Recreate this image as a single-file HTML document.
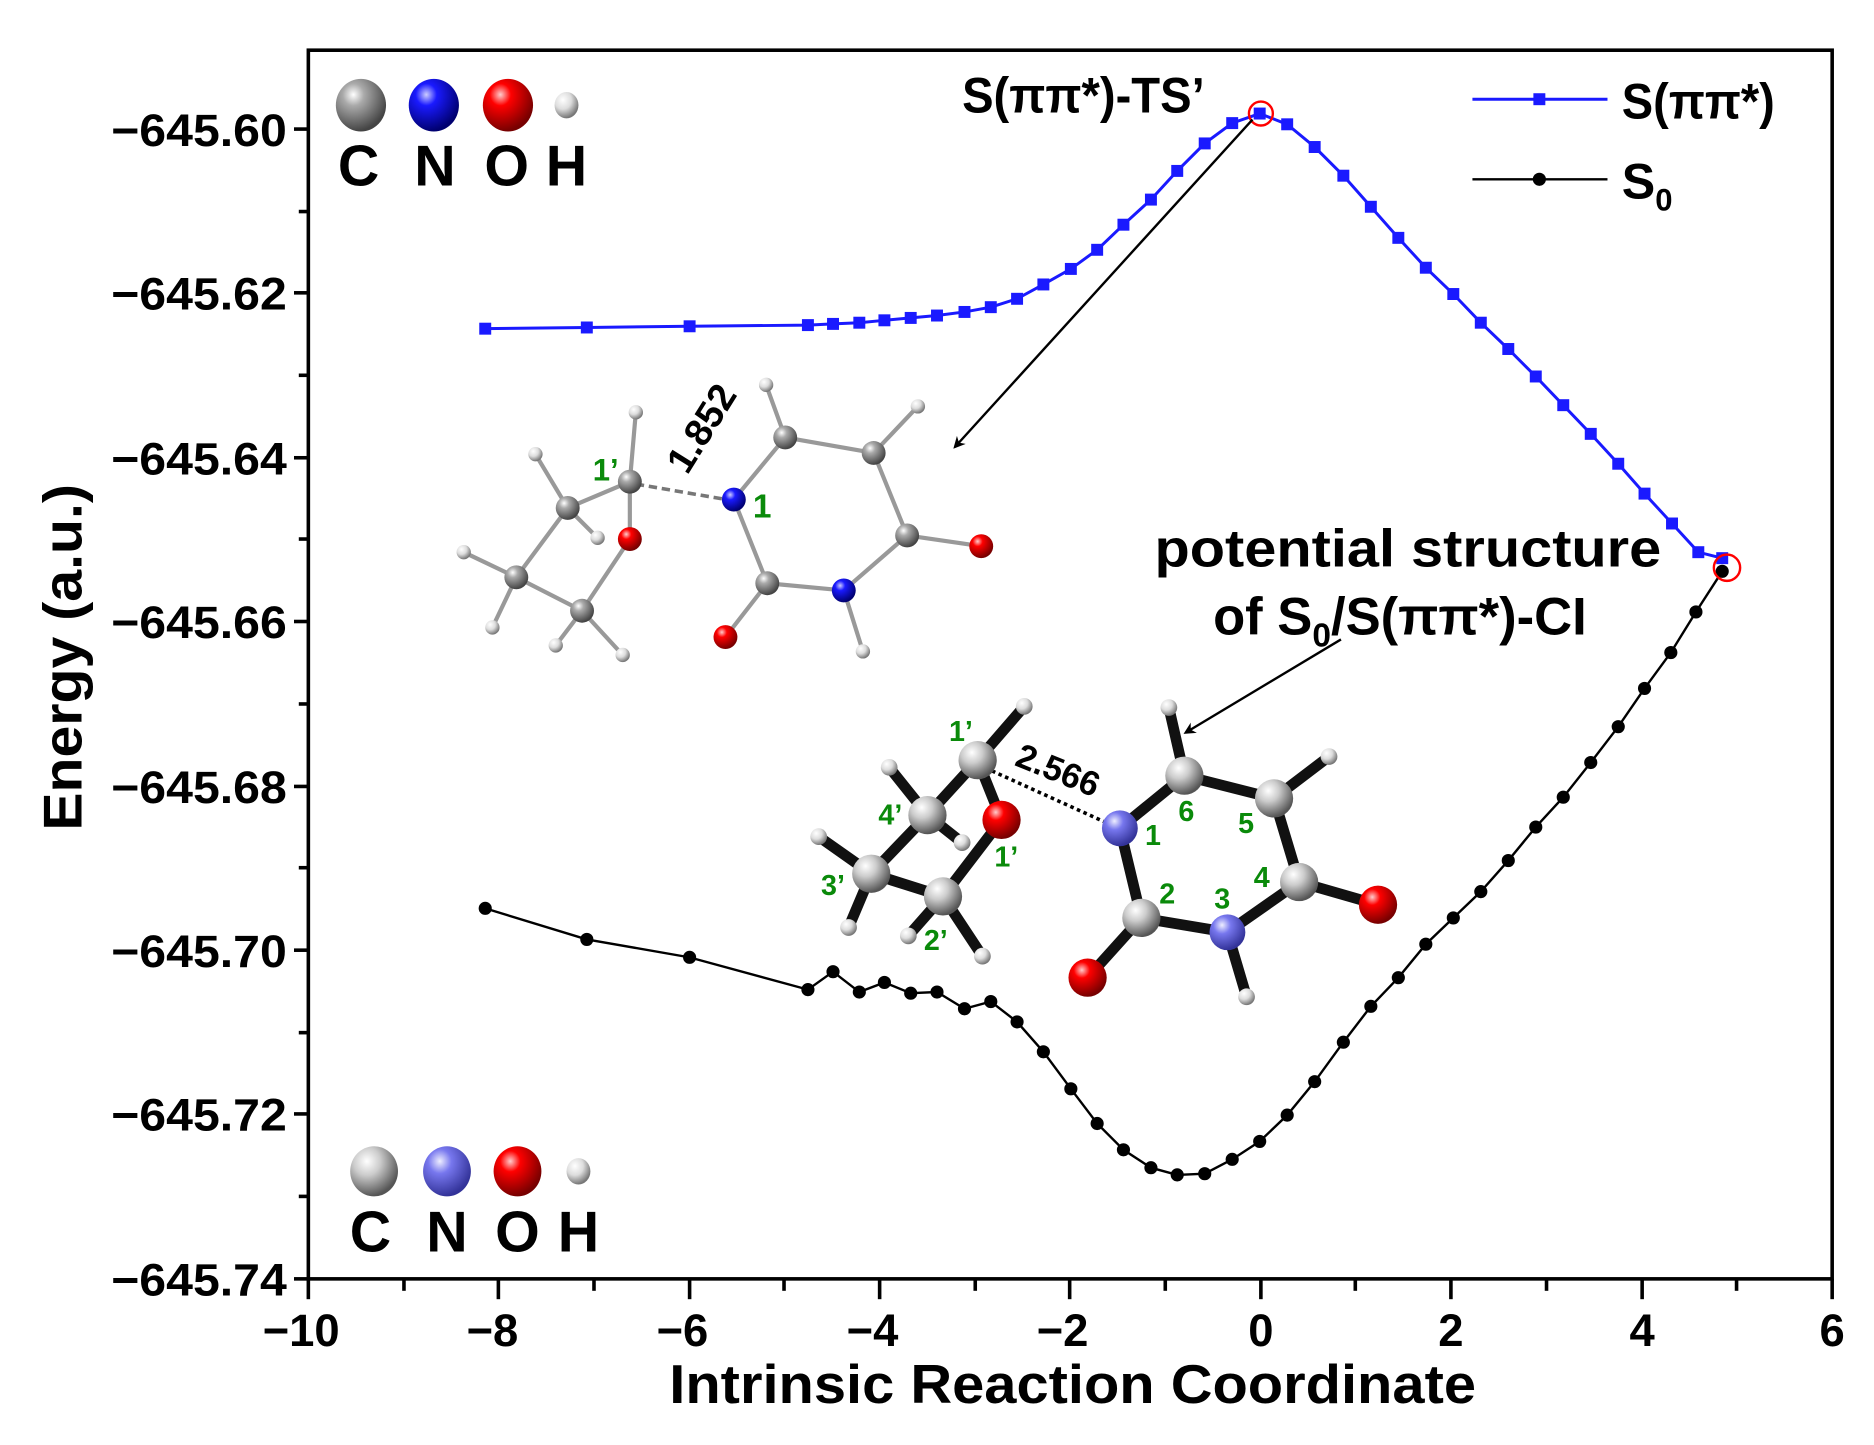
<!DOCTYPE html>
<html><head><meta charset="utf-8"><style>
html,body{margin:0;padding:0;background:#fff}
svg{display:block}
text{font-family:"Liberation Sans",Arial,sans-serif;font-weight:bold}
</style></head><body>
<svg width="1874" height="1445" viewBox="0 0 1568 1209" preserveAspectRatio="none" xmlns="http://www.w3.org/2000/svg">
<defs>
<radialGradient id="gC" cx="35%" cy="30%" r="70%"><stop offset="0" stop-color="#fff"/><stop offset="0.3" stop-color="#aaa"/><stop offset="1" stop-color="#444"/></radialGradient>
<radialGradient id="gN" cx="35%" cy="30%" r="70%"><stop offset="0" stop-color="#ccf"/><stop offset="0.3" stop-color="#1a1aff"/><stop offset="1" stop-color="#000070"/></radialGradient>
<radialGradient id="gN2" cx="35%" cy="30%" r="70%"><stop offset="0" stop-color="#eef"/><stop offset="0.35" stop-color="#7777ee"/><stop offset="1" stop-color="#333399"/></radialGradient>
<radialGradient id="gO" cx="35%" cy="30%" r="70%"><stop offset="0" stop-color="#fcc"/><stop offset="0.3" stop-color="#f00"/><stop offset="1" stop-color="#700"/></radialGradient>
<radialGradient id="gH" cx="35%" cy="30%" r="70%"><stop offset="0" stop-color="#fff"/><stop offset="0.5" stop-color="#ddd"/><stop offset="1" stop-color="#777"/></radialGradient>
<radialGradient id="gC2" cx="35%" cy="30%" r="70%"><stop offset="0" stop-color="#fff"/><stop offset="0.4" stop-color="#ccc"/><stop offset="1" stop-color="#555"/></radialGradient>
<marker id="ah" markerWidth="10" markerHeight="10" refX="8" refY="5" orient="auto" markerUnits="userSpaceOnUse"><path d="M0,0 L10,5 L0,10 L3,5 z" fill="#000"/></marker>
</defs>

<rect x="258" y="42" width="1275" height="1028" fill="none" stroke="#000" stroke-width="3"/>
<g stroke="#000" stroke-width="3">
<line x1="246" y1="108" x2="258" y2="108"/><line x1="246" y1="245" x2="258" y2="245"/><line x1="246" y1="383" x2="258" y2="383"/><line x1="246" y1="520" x2="258" y2="520"/><line x1="246" y1="658" x2="258" y2="658"/><line x1="246" y1="795" x2="258" y2="795"/><line x1="246" y1="932" x2="258" y2="932"/><line x1="246" y1="1070" x2="258" y2="1070"/>
<line x1="250" y1="177" x2="258" y2="177"/><line x1="250" y1="314" x2="258" y2="314"/><line x1="250" y1="451" x2="258" y2="451"/><line x1="250" y1="589" x2="258" y2="589"/><line x1="250" y1="726" x2="258" y2="726"/><line x1="250" y1="864" x2="258" y2="864"/><line x1="250" y1="1001" x2="258" y2="1001"/>
</g>
<g stroke="#000" stroke-width="3">
<line x1="258" y1="1070" x2="258" y2="1087"/><line x1="417" y1="1070" x2="417" y2="1087"/><line x1="577" y1="1070" x2="577" y2="1087"/><line x1="736" y1="1070" x2="736" y2="1087"/><line x1="895" y1="1070" x2="895" y2="1087"/><line x1="1055" y1="1070" x2="1055" y2="1087"/><line x1="1214" y1="1070" x2="1214" y2="1087"/><line x1="1374" y1="1070" x2="1374" y2="1087"/><line x1="1533" y1="1070" x2="1533" y2="1087"/>
<line x1="338" y1="1070" x2="338" y2="1080"/><line x1="497" y1="1070" x2="497" y2="1080"/><line x1="656" y1="1070" x2="656" y2="1080"/><line x1="816" y1="1070" x2="816" y2="1080"/><line x1="975" y1="1070" x2="975" y2="1080"/><line x1="1134" y1="1070" x2="1134" y2="1080"/><line x1="1294" y1="1070" x2="1294" y2="1080"/><line x1="1453" y1="1070" x2="1453" y2="1080"/>
</g>
<g font-size="38" lengthAdjust="spacingAndGlyphs">
<text x="93" y="122" textLength="147" lengthAdjust="spacingAndGlyphs">−645.60</text><text x="93" y="259" textLength="147" lengthAdjust="spacingAndGlyphs">−645.62</text><text x="93" y="397" textLength="147" lengthAdjust="spacingAndGlyphs">−645.64</text><text x="93" y="534" textLength="147" lengthAdjust="spacingAndGlyphs">−645.66</text><text x="93" y="672" textLength="147" lengthAdjust="spacingAndGlyphs">−645.68</text><text x="93" y="809" textLength="147" lengthAdjust="spacingAndGlyphs">−645.70</text><text x="93" y="946" textLength="147" lengthAdjust="spacingAndGlyphs">−645.72</text><text x="93" y="1084" textLength="147" lengthAdjust="spacingAndGlyphs">−645.74</text>
</g>
<g font-size="38" text-anchor="middle">
<text x="252" y="1126">−10</text><text x="412" y="1126">−8</text><text x="571" y="1126">−6</text><text x="730" y="1126">−4</text><text x="889" y="1126">−2</text><text x="1055" y="1126">0</text><text x="1214" y="1126">2</text><text x="1374" y="1126">4</text><text x="1533" y="1126">6</text>
</g>
<text x="560" y="1174" font-size="46" textLength="675" lengthAdjust="spacingAndGlyphs">Intrinsic Reaction Coordinate</text>
<text transform="translate(68,695) rotate(-90)" font-size="46" textLength="290" lengthAdjust="spacingAndGlyphs">Energy (a.u.)</text>

<polyline fill="none" stroke="#1a1aff" stroke-width="2.5" points="406,275 491,274 577,273 676,272 697,271 719,270 740,268 762,266 784,264 807,261 829,257 851,250 873,238 896,225 918,209 940,188 963,167 985,143 1008,120 1031,103 1054,95 1077,104 1100,123 1124,147 1147,173 1170,199 1193,224 1216,246 1239,270 1262,292 1285,315 1308,339 1331,363 1354,388 1376,413 1399,438 1421,462 1441,467"/>
<g fill="#1a1aff">
<rect x="401" y="270" width="10" height="10"/><rect x="486" y="269" width="10" height="10"/><rect x="572" y="268" width="10" height="10"/><rect x="671" y="267" width="10" height="10"/><rect x="692" y="266" width="10" height="10"/><rect x="714" y="265" width="10" height="10"/><rect x="735" y="263" width="10" height="10"/><rect x="757" y="261" width="10" height="10"/><rect x="779" y="259" width="10" height="10"/><rect x="802" y="256" width="10" height="10"/><rect x="824" y="252" width="10" height="10"/><rect x="846" y="245" width="10" height="10"/><rect x="868" y="233" width="10" height="10"/><rect x="891" y="220" width="10" height="10"/><rect x="913" y="204" width="10" height="10"/><rect x="935" y="183" width="10" height="10"/><rect x="958" y="162" width="10" height="10"/><rect x="980" y="138" width="10" height="10"/><rect x="1003" y="115" width="10" height="10"/><rect x="1026" y="98" width="10" height="10"/><rect x="1049" y="90" width="10" height="10"/><rect x="1072" y="99" width="10" height="10"/><rect x="1095" y="118" width="10" height="10"/><rect x="1119" y="142" width="10" height="10"/><rect x="1142" y="168" width="10" height="10"/><rect x="1165" y="194" width="10" height="10"/><rect x="1188" y="219" width="10" height="10"/><rect x="1211" y="241" width="10" height="10"/><rect x="1234" y="265" width="10" height="10"/><rect x="1257" y="287" width="10" height="10"/><rect x="1280" y="310" width="10" height="10"/><rect x="1303" y="334" width="10" height="10"/><rect x="1326" y="358" width="10" height="10"/><rect x="1349" y="383" width="10" height="10"/><rect x="1371" y="408" width="10" height="10"/><rect x="1394" y="433" width="10" height="10"/><rect x="1416" y="457" width="10" height="10"/><rect x="1436" y="462" width="10" height="10"/>
</g>
<polyline fill="none" stroke="#000" stroke-width="2" points="406,760 491,786 577,801 676,828 697,813 719,830 740,822 762,831 784,830 807,844 829,838 851,855 873,880 896,911 918,940 940,962 963,977 985,983 1008,982 1031,970 1054,955 1077,933 1100,905 1124,872 1147,842 1170,818 1193,790 1216,768 1239,746 1262,720 1285,692 1308,667 1331,638 1354,608 1376,576 1398,546 1419,512 1441,478"/>
<g fill="#000">
<circle cx="406" cy="760" r="5.5"/><circle cx="491" cy="786" r="5.5"/><circle cx="577" cy="801" r="5.5"/><circle cx="676" cy="828" r="5.5"/><circle cx="697" cy="813" r="5.5"/><circle cx="719" cy="830" r="5.5"/><circle cx="740" cy="822" r="5.5"/><circle cx="762" cy="831" r="5.5"/><circle cx="784" cy="830" r="5.5"/><circle cx="807" cy="844" r="5.5"/><circle cx="829" cy="838" r="5.5"/><circle cx="851" cy="855" r="5.5"/><circle cx="873" cy="880" r="5.5"/><circle cx="896" cy="911" r="5.5"/><circle cx="918" cy="940" r="5.5"/><circle cx="940" cy="962" r="5.5"/><circle cx="963" cy="977" r="5.5"/><circle cx="985" cy="983" r="5.5"/><circle cx="1008" cy="982" r="5.5"/><circle cx="1031" cy="970" r="5.5"/><circle cx="1054" cy="955" r="5.5"/><circle cx="1077" cy="933" r="5.5"/><circle cx="1100" cy="905" r="5.5"/><circle cx="1124" cy="872" r="5.5"/><circle cx="1147" cy="842" r="5.5"/><circle cx="1170" cy="818" r="5.5"/><circle cx="1193" cy="790" r="5.5"/><circle cx="1216" cy="768" r="5.5"/><circle cx="1239" cy="746" r="5.5"/><circle cx="1262" cy="720" r="5.5"/><circle cx="1285" cy="692" r="5.5"/><circle cx="1308" cy="667" r="5.5"/><circle cx="1331" cy="638" r="5.5"/><circle cx="1354" cy="608" r="5.5"/><circle cx="1376" cy="576" r="5.5"/><circle cx="1398" cy="546" r="5.5"/><circle cx="1419" cy="512" r="5.5"/><circle cx="1441" cy="478" r="5.5"/>
</g>
<circle cx="1055" cy="95" r="10" fill="none" stroke="#f00" stroke-width="2"/>
<circle cx="1445" cy="475" r="11" fill="none" stroke="#f00" stroke-width="2"/>

<line x1="1232" y1="83" x2="1345" y2="83" stroke="#1a1aff" stroke-width="2.5"/><rect x="1283" y="78" width="10" height="10" fill="#1a1aff"/>
<text x="1357" y="99" font-size="42" textLength="128" lengthAdjust="spacingAndGlyphs">S(ππ*)</text>
<line x1="1232" y1="150" x2="1345" y2="150" stroke="#000" stroke-width="2"/><circle cx="1288" cy="150" r="5.5"/>
<text x="1357" y="166" font-size="42">S<tspan font-size="26" dy="10">0</tspan></text>

<text x="805" y="94" font-size="42" textLength="203" lengthAdjust="spacingAndGlyphs">S(ππ*)-TS’</text>
<line x1="1048" y1="100" x2="799" y2="374" stroke="#000" stroke-width="2" marker-end="url(#ah)"/>
<text x="966" y="474" font-size="44" textLength="424" lengthAdjust="spacingAndGlyphs">potential structure</text>
<text x="1015" y="531" font-size="44">of S<tspan font-size="28" dy="10">0</tspan><tspan dy="-10">/S(ππ*)-CI</tspan></text>
<line x1="1122" y1="535" x2="992" y2="613" stroke="#000" stroke-width="2" marker-end="url(#ah)"/>

<g>
<ellipse cx="302" cy="88" rx="21" ry="22" fill="url(#gC)"/><ellipse cx="363" cy="88" rx="21" ry="22" fill="url(#gN)"/><ellipse cx="425" cy="88" rx="21" ry="22" fill="url(#gO)"/><ellipse cx="474" cy="88" rx="10" ry="11" fill="url(#gH)"/>
<text x="300" y="155" font-size="48" text-anchor="middle">C</text><text x="364" y="155" font-size="48" text-anchor="middle">N</text><text x="424" y="155" font-size="48" text-anchor="middle">O</text><text x="474" y="155" font-size="48" text-anchor="middle">H</text>
<ellipse cx="313" cy="980" rx="20" ry="21" fill="url(#gC2)"/><ellipse cx="374" cy="980" rx="20" ry="21" fill="url(#gN2)"/><ellipse cx="433" cy="980" rx="20" ry="21" fill="url(#gO)"/><ellipse cx="484" cy="980" rx="10" ry="11" fill="url(#gH)"/>
<text x="310" y="1047" font-size="48" text-anchor="middle">C</text><text x="374" y="1047" font-size="48" text-anchor="middle">N</text><text x="433" y="1047" font-size="48" text-anchor="middle">O</text><text x="484" y="1047" font-size="48" text-anchor="middle">H</text>
</g>

<g stroke="#999" stroke-width="3.5" stroke-linecap="round">
<line x1="527" y1="403" x2="527" y2="451"/><line x1="527" y1="403" x2="532" y2="345"/><line x1="527" y1="403" x2="475" y2="425"/>
<line x1="475" y1="425" x2="448" y2="380"/><line x1="475" y1="425" x2="500" y2="450"/><line x1="475" y1="425" x2="432" y2="483"/>
<line x1="432" y1="483" x2="388" y2="462"/><line x1="432" y1="483" x2="412" y2="525"/><line x1="432" y1="483" x2="487" y2="511"/>
<line x1="487" y1="511" x2="527" y2="451"/><line x1="487" y1="511" x2="465" y2="540"/><line x1="487" y1="511" x2="521" y2="548"/>
<line x1="614" y1="418" x2="657" y2="366"/><line x1="657" y1="366" x2="641" y2="322"/><line x1="657" y1="366" x2="731" y2="379"/><line x1="731" y1="379" x2="768" y2="340"/>
<line x1="731" y1="379" x2="759" y2="448"/><line x1="759" y1="448" x2="821" y2="457"/><line x1="759" y1="448" x2="706" y2="494"/><line x1="706" y1="494" x2="642" y2="488"/>
<line x1="642" y1="488" x2="614" y2="418"/><line x1="642" y1="488" x2="607" y2="533"/><line x1="706" y1="494" x2="722" y2="545"/>
</g>
<line x1="532" y1="405" x2="608" y2="418" stroke="#777" stroke-width="3" stroke-dasharray="7,4"/>
<g fill="url(#gH)">
<circle cx="532" cy="345" r="6"/><circle cx="448" cy="380" r="6"/><circle cx="500" cy="450" r="6"/><circle cx="388" cy="462" r="6"/><circle cx="412" cy="525" r="6"/><circle cx="465" cy="540" r="6"/><circle cx="521" cy="548" r="6"/><circle cx="641" cy="322" r="6"/><circle cx="768" cy="340" r="6"/><circle cx="722" cy="545" r="6"/>
</g>
<g fill="url(#gC)">
<circle cx="527" cy="403" r="10"/><circle cx="475" cy="425" r="10"/><circle cx="432" cy="483" r="10"/><circle cx="487" cy="511" r="10"/><circle cx="657" cy="366" r="10"/><circle cx="731" cy="379" r="10"/><circle cx="759" cy="448" r="10"/><circle cx="642" cy="488" r="10"/>
</g>
<g fill="url(#gO)"><circle cx="527" cy="451" r="10"/><circle cx="821" cy="457" r="10"/><circle cx="607" cy="533" r="10"/></g>
<g fill="url(#gN)"><circle cx="614" cy="418" r="10"/><circle cx="706" cy="494" r="10"/></g>
<text x="496" y="402" font-size="26" fill="#0a8a0a">1’</text>
<text x="630" y="433" font-size="28" fill="#0a8a0a">1</text>
<text transform="translate(575,398) rotate(-58)" font-size="32">1.852</text>

<g stroke="#111" stroke-width="9" stroke-linecap="round">
<line x1="818" y1="636" x2="838" y2="686"/><line x1="818" y1="636" x2="776" y2="682"/><line x1="818" y1="636" x2="857" y2="591"/>
<line x1="776" y1="682" x2="729" y2="731"/><line x1="776" y1="682" x2="744" y2="642"/><line x1="776" y1="682" x2="805" y2="705"/>
<line x1="729" y1="731" x2="789" y2="750"/><line x1="729" y1="731" x2="685" y2="700"/><line x1="729" y1="731" x2="710" y2="776"/>
<line x1="789" y1="750" x2="838" y2="686"/><line x1="789" y1="750" x2="822" y2="800"/><line x1="789" y1="750" x2="760" y2="783"/>
<line x1="937" y1="693" x2="991" y2="649"/><line x1="991" y1="649" x2="1066" y2="668"/><line x1="991" y1="649" x2="978" y2="592"/><line x1="1066" y1="668" x2="1112" y2="633"/>
<line x1="1066" y1="668" x2="1087" y2="738"/><line x1="1087" y1="738" x2="1153" y2="757"/><line x1="1087" y1="738" x2="1027" y2="780"/>
<line x1="1027" y1="780" x2="955" y2="768"/><line x1="955" y1="768" x2="937" y2="693"/><line x1="955" y1="768" x2="910" y2="818"/><line x1="1027" y1="780" x2="1043" y2="834"/>
</g>
<line x1="830" y1="645" x2="925" y2="688" stroke="#000" stroke-width="3" stroke-dasharray="3,3"/>
<g fill="url(#gH)">
<circle cx="857" cy="591" r="7"/><circle cx="744" cy="642" r="7"/><circle cx="805" cy="705" r="7"/><circle cx="685" cy="700" r="7"/><circle cx="710" cy="776" r="7"/><circle cx="822" cy="800" r="7"/><circle cx="760" cy="783" r="7"/><circle cx="978" cy="592" r="7"/><circle cx="1112" cy="633" r="7"/><circle cx="1043" cy="834" r="7"/>
</g>
<g fill="url(#gC2)">
<circle cx="818" cy="636" r="16"/><circle cx="776" cy="682" r="16"/><circle cx="729" cy="731" r="16"/><circle cx="789" cy="750" r="16"/><circle cx="991" cy="649" r="16"/><circle cx="1066" cy="668" r="16"/><circle cx="1087" cy="738" r="16"/><circle cx="955" cy="768" r="16"/>
</g>
<g fill="url(#gO)"><circle cx="838" cy="686" r="16"/><circle cx="1153" cy="757" r="16"/><circle cx="910" cy="818" r="16"/></g>
<g fill="url(#gN2)"><circle cx="937" cy="693" r="15"/><circle cx="1027" cy="780" r="15"/></g>
<g font-size="24" fill="#0a8a0a">
<text x="794" y="620">1’</text><text x="735" y="690">4’</text><text x="832" y="725">1’</text><text x="687" y="749">3’</text><text x="773" y="795">2’</text>
<text x="958" y="707">1</text><text x="986" y="687">6</text><text x="1036" y="697">5</text><text x="1049" y="742">4</text><text x="970" y="756">2</text><text x="1016" y="760">3</text>
</g>
<text transform="translate(848,640) rotate(22)" font-size="29">2.566</text>
</svg>
</body></html>
